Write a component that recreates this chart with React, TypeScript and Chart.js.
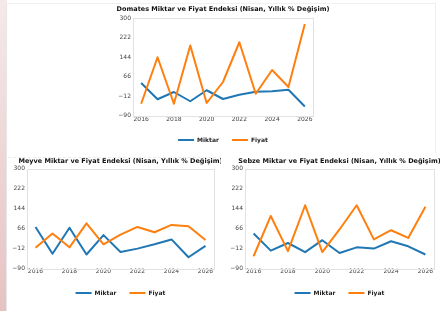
import React, { useEffect, useRef } from "react";
import { Chart, registerables } from "chart.js";

Chart.register(...registerables);

const YEARS = [2016, 2017, 2018, 2019, 2020, 2021, 2022, 2023, 2024, 2025, 2026];
const X_TICKS = [2016, 2018, 2020, 2022, 2024, 2026];
const Y_TICKS = [-90, -12, 66, 144, 222, 300];
const SERIES_LABELS = ["Miktar", "Fiyat"];

const DOMATES_MIKTAR = [40, -25, 4, -33, 11, -24, -7, 5, 7, 13, -54];
const DOMATES_FIYAT = [-43, 143, -43, 190, -40, 44, 203, -3, 92, 24, 276];
const MEYVE_MIKTAR = [71, -34, 68, -37, 39, -27, -14, 3, 22, -48, -3];
const MEYVE_FIYAT = [-11, 45, -9, 85, 3, 41, 71, 50, 79, 74, 20];
const SEBZE_MIKTAR = [45, -22, 8, -28, 19, -31, -9, -14, 15, -5, -37];
const SEBZE_FIYAT = [-44, 114, -24, 156, -28, 61, 156, 22, 58, 28, 150];

const TITLE_DOMATES = "Domates Miktar ve Fiyat Endeksi (Nisan, Yıllık % Değişim)";
const TITLE_MEYVE = "Meyve Miktar ve Fiyat Endeksi (Nisan, Yıllık % Değişim)";
const TITLE_SEBZE = "Sebze Miktar ve Fiyat Endeksi (Nisan, Yıllık % Değişim)";

const BLUE = "#1f77b4";
const ORANGE = "#ff7f0e";
const FONT = "'DejaVu Sans', sans-serif";

const panelPlugin = {
  id: "panelDeco",
  beforeDatasetsDraw(chart: any) {
    const { ctx, chartArea } = chart;
    ctx.save();
    ctx.strokeStyle = "#e2e2e2";
    ctx.lineWidth = 1;
    ctx.strokeRect(
      Math.round(chartArea.left) + 0.5,
      Math.round(chartArea.top) + 0.5,
      Math.round(chartArea.right - chartArea.left),
      Math.round(chartArea.bottom - chartArea.top)
    );
    ctx.restore();
  },
  afterDraw(chart: any, _args: any, opts: any) {
    const { ctx, chartArea } = chart;
    ctx.save();
    ctx.font = `bold 6.5px ${FONT}`;
    ctx.fillStyle = "#111";
    ctx.textAlign = "center";
    ctx.textBaseline = "middle";
    ctx.fillText(opts.text || "", (chartArea.left + chartArea.right) / 2, opts.y || 0);
    ctx.restore();
  },
};

type PanelProps = {
  left: number;
  top: number;
  width: number;
  height: number;
  pad: number;
  padTop: number;
  hx: number;
  title: string;
  titleY: number;
  miktar: number[];
  fiyat: number[];
};

function Panel(p: PanelProps) {
  const ref = useRef<HTMLCanvasElement>(null);
  useEffect(() => {
    const mk = (label: string, vals: number[], color: string, order: number) => ({
      label,
      data: YEARS.map((x, i) => ({ x, y: vals[i] })),
      borderColor: color,
      backgroundColor: color,
      pointBorderColor: color,
      pointBackgroundColor: color,
      pointBorderWidth: 2,
      borderWidth: 2,
      pointRadius: 0,
      tension: 0,
      borderJoinStyle: "round" as const,
      order,
    });
    const chart = new Chart(ref.current as HTMLCanvasElement, {
      type: "line",
      data: {
        datasets: [
          mk(SERIES_LABELS[0], p.miktar, BLUE, 1),
          mk(SERIES_LABELS[1], p.fiyat, ORANGE, 0),
        ],
      },
      options: {
        responsive: false,
        animation: false,
        events: [],
        layout: { padding: { top: p.padTop, left: 0, right: p.pad, bottom: 0 } },
        scales: {
          x: {
            type: "linear",
            min: 2015.5,
            max: 2026.5,
            grid: { display: false, drawTicks: false, tickLength: 0 },
            border: { display: false },
            ticks: {
              font: { family: FONT, size: 6 },
              color: "#444",
              padding: 0,
              maxRotation: 0,
              autoSkip: false,
              callback: (v: any) => String(v),
            },
            afterBuildTicks: (s: any) => {
              s.ticks = X_TICKS.map((v) => ({ value: v }));
            },
            afterFit: (s: any) => {
              s.height = p.hx;
            },
          },
          y: {
            type: "linear",
            min: -90,
            max: 300,
            grid: { display: false, drawTicks: false, tickLength: 0 },
            border: { display: false },
            ticks: {
              font: { family: FONT, size: 6 },
              color: "#444",
              padding: 2,
              autoSkip: false,
              callback: (v: any) => String(v).replace("-", "\u2212"),
            },
            afterBuildTicks: (s: any) => {
              s.ticks = Y_TICKS.map((v) => ({ value: v }));
            },
            afterFit: (s: any) => {
              s.width = p.pad;
            },
          },
        },
        plugins: {
          title: { display: false },
          tooltip: { enabled: false },
          legend: {
            position: "bottom",
            fullSize: false,
            labels: {
              usePointStyle: true,
              pointStyle: "line",
              pointStyleWidth: 16,
              boxHeight: 6,
              padding: 13,
              color: "#222",
              font: { family: FONT, size: 6, weight: "bold" },
              sort: (a: any, b: any) => a.datasetIndex - b.datasetIndex,
            },
          },
          panelDeco: { text: p.title, y: p.titleY },
        } as any,
      },
      plugins: [panelPlugin],
    });
    return () => chart.destroy();
  }, []);
  return (
    <canvas
      ref={ref}
      width={p.width}
      height={p.height}
      style={{ position: "absolute", left: p.left, top: p.top, width: p.width, height: p.height }}
    />
  );
}

export default function App() {
  return (
    <div
      style={{
        position: "fixed",
        left: 0,
        top: 0,
        width: 440,
        height: 311,
        overflow: "hidden",
        background: "#fff",
      }}
    >
      <div
        style={{
          position: "absolute",
          left: 0,
          top: 0,
          width: 7,
          height: 311,
          background:
            "linear-gradient(to bottom, rgba(215,170,170,0.25), rgba(200,120,120,0.45))",
        }}
      />
      <div style={{ position: "absolute", left: 6, top: 3, width: 1, height: 308, background: "#e6e6e6" }} />
      <div style={{ position: "absolute", left: 6, top: 3, width: 430, height: 1, background: "#f0f0f0" }} />
      <div style={{ position: "absolute", left: 435, top: 3, width: 1, height: 150, background: "#eeeeee" }} />
      <div
        style={{
          position: "absolute",
          left: 8,
          top: 157,
          width: 428,
          height: 0,
          borderTop: "1px dashed #ececec",
        }}
      />
      <Panel
        left={103}
        top={0}
        width={240}
        height={153}
        pad={30}
        padTop={18}
        hx={8.5}
        title={TITLE_DOMATES}
        titleY={9}
        miktar={DOMATES_MIKTAR}
        fiyat={DOMATES_FIYAT}
      />
      <Panel
        left={0}
        top={150}
        width={241}
        height={156}
        pad={27}
        padTop={18.5}
        hx={9}
        title={TITLE_MEYVE}
        titleY={11}
        miktar={MEYVE_MIKTAR}
        fiyat={MEYVE_FIYAT}
      />
      <div style={{ position: "absolute", left: 221, top: 155, width: 219, height: 156, background: "#fff" }} />
      <Panel
        left={225}
        top={150}
        width={229}
        height={156}
        pad={20}
        padTop={18.5}
        hx={9}
        title={TITLE_SEBZE}
        titleY={11}
        miktar={SEBZE_MIKTAR}
        fiyat={SEBZE_FIYAT}
      />
    </div>
  );
}
